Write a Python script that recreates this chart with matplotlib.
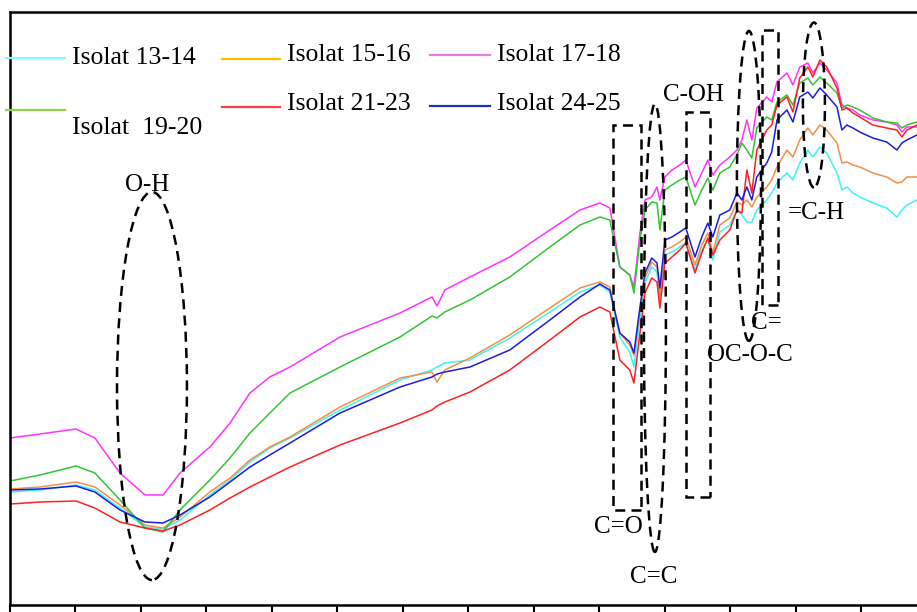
"""FTIR spectra of isolates with functional group markers."""
import matplotlib

matplotlib.use("Agg")
import matplotlib.pyplot as plt  # noqa: E402
from matplotlib.lines import Line2D  # noqa: E402
from matplotlib.patches import Ellipse, Rectangle  # noqa: E402

plt.rcParams["font.family"] = ["Liberation Serif", "DejaVu Serif"]

# wavenumber (cm-1), shared by every spectrum
wavenumber = [
    4000, 3885, 3748, 3676, 3580, 3485, 3416, 3351, 3237, 3160,
    3084, 3008, 2931, 2740, 2511, 2389, 2370, 2340, 2244, 2092,
    1939, 1824, 1748, 1710, 1672, 1634, 1618, 1595, 1576, 1550,
    1530, 1519, 1500, 1473, 1443, 1420, 1385, 1359, 1336, 1317,
    1290, 1252, 1225, 1206, 1187, 1168, 1149, 1111, 1092, 1072,
    1034, 1011, 985, 954, 935, 908, 882, 843, 824, 805,
    782, 756, 706, 653, 614, 595, 576, 538,
]

# transmittance (a.u.)
isolat_13_14 = [
    120, 122, 127, 122, 104, 85, 83, 92, 117, 132,
    150, 164, 174, 202, 232, 242, 245, 249, 252, 274,
    300, 320, 327, 320, 275, 260, 245, 294, 329, 345,
    340, 312, 357, 360, 365, 369, 342, 362, 372, 352,
    380, 387, 402, 397, 390, 390, 402, 412, 419, 429,
    439, 432, 449, 462, 455, 465, 459, 439, 422, 425,
    419, 415, 409, 404, 395, 402, 407, 412,
]
isolat_15_16 = [
    123, 125, 130, 125, 107, 87, 84, 95, 120, 134,
    152, 165, 175, 205, 234, 240, 230, 242, 254, 277,
    304, 324, 330, 325, 279, 267, 257, 302, 334, 350,
    345, 317, 362, 365, 370, 375, 347, 367, 379, 359,
    387, 394, 410, 407, 412, 405, 415, 425, 432, 445,
    462, 455, 472, 484, 477, 487, 482, 469, 449, 450,
    447, 445, 439, 435, 429, 430, 435, 435,
]
isolat_17_18 = [
    174, 178, 183, 174, 139, 117, 117, 139, 165, 189,
    219, 235, 245, 275, 299, 315, 306, 322, 335, 355,
    382, 402, 409, 404, 345, 337, 325, 379, 412, 415,
    425, 412, 435, 442, 447, 452, 425, 439, 452, 437,
    447, 455, 462, 472, 492, 472, 504, 515, 510, 530,
    539, 527, 545, 549, 539, 549, 542, 529, 507, 504,
    502, 497, 492, 490, 487, 480, 485, 485,
]
isolat_19_20 = [
    131, 137, 146, 139, 112, 84, 80, 102, 132, 154,
    179, 199, 219, 245, 275, 296, 294, 300, 312, 335,
    365, 387, 395, 392, 345, 337, 319, 372, 402, 410,
    409, 382, 422, 427, 432, 435, 407, 422, 434, 422,
    439, 445, 457, 469, 462, 454, 484, 495, 492, 510,
    517, 507, 529, 534, 527, 535, 529, 519, 504, 507,
    505, 502, 494, 490, 489, 484, 487, 490,
]
isolat_21_23 = [
    108, 110, 111, 104, 90, 84, 81, 87, 102, 114,
    125, 135, 145, 167, 189, 202, 206, 210, 220, 242,
    272, 295, 305, 300, 252, 242, 229, 279, 319, 334,
    330, 304, 349, 355, 362, 369, 339, 359, 374, 357,
    372, 382, 402, 399, 442, 419, 462, 482, 487, 507,
    515, 500, 534, 545, 535, 552, 545, 524, 502, 504,
    499, 495, 487, 484, 482, 475, 482, 487,
]
isolat_24_25 = [
    122, 123, 126, 120, 102, 90, 89, 97, 115, 130,
    145, 157, 169, 199, 225, 235, 238, 240, 245, 262,
    292, 315, 328, 322, 279, 270, 259, 305, 339, 354,
    349, 324, 372, 375, 380, 384, 355, 375, 389, 375,
    397, 402, 419, 412, 425, 412, 435, 449, 460, 492,
    502, 490, 515, 520, 514, 524, 517, 505, 482, 487,
    484, 480, 474, 470, 462, 469, 472, 477,
]

labels = ["Isolat 13-14", "Isolat 15-16", "Isolat 17-18",
          "Isolat  19-20", "Isolat 21-23", "Isolat 24-25"]
series = [isolat_13_14, isolat_15_16, isolat_17_18,
          isolat_19_20, isolat_21_23, isolat_24_25]
line_colors = ["#3cf4f4", "#f0904a", "#ff33ff", "#33c433", "#ff2020", "#1c1ce0"]
legend_colors = ["#80ffff", "#ffc000", "#e080e0", "#92d050", "#ff4040", "#2030c0"]

W, H = 917, 612
fig = plt.figure(figsize=(W / 100, H / 100), dpi=100)
ax = fig.add_axes([10 / W, 7 / H, 943 / W, 593 / H])

for vals, col in zip(series, line_colors):
    ax.plot(wavenumber, vals, color=col, lw=1.1, zorder=2)

ax.set_xlim(4000, 400)
ax.set_ylim(7, 600)
ax.set_xticks(range(4000, 399, -250))
ax.set_xticklabels([])
ax.set_yticks([])
ax.tick_params(axis="x", direction="out", length=5, width=1.5)
for side in ["left", "bottom", "top", "right"]:
    ax.spines[side].set_linewidth(1.8)

# functional group markers
dash = dict(fill=False, ec="black", lw=1.8, ls=(0, (4, 2.5)), zorder=3)
ax.add_patch(Ellipse((3458, 226), 267, 388, **dash))
ax.add_patch(Rectangle((1591, 102), 107, 385, **dash))
ax.add_patch(Ellipse((1538, 284), 84, 448, **dash))
ax.add_patch(Rectangle((1328, 115), 92, 385, **dash))
ax.add_patch(Ellipse((1179, 426), 92, 310, **dash))
ax.add_patch(Rectangle((1069, 307), 61, 275, **dash))
ax.add_patch(Ellipse((931, 507), 84, 165, **dash))

txt = dict(fontsize=18, ha="center", va="center", zorder=4)
ax.text(3477, 427, "O-H", **txt)
ax.text(1679, 85, "C=O", **txt)
ax.text(1542, 35, "C=C", **txt)
ax.text(1389, 517, "C-OH", **txt)
ax.text(1111, 289, "C=", **txt)
ax.text(1175, 257, "OC-O-C", **txt)
ax.text(920, 399, "=C-H", **txt)

# hand-placed legend (pixel positions of the original layout)
legend_pos = [
    ((6, 65, 58), (72, 58)),
    ((222, 280, 59), (287, 55)),
    ((430, 490, 55), (497, 55)),
    ((6, 65, 110), (72, 128)),
    ((222, 280, 107), (287, 104)),
    ((430, 490, 106), (497, 104)),
]
for (line, tpos), lab, col in zip(legend_pos, labels, legend_colors):
    x0, x1, y = line
    fig.add_artist(Line2D([x0 / W, x1 / W], [1 - y / H, 1 - y / H],
                          color=col, lw=1.6, transform=fig.transFigure))
    fig.text(tpos[0] / W, 1 - tpos[1] / H, lab, fontsize=18.5,
             ha="left", va="center")

fig.savefig("out.png", dpi=100)
plt.close(fig)
